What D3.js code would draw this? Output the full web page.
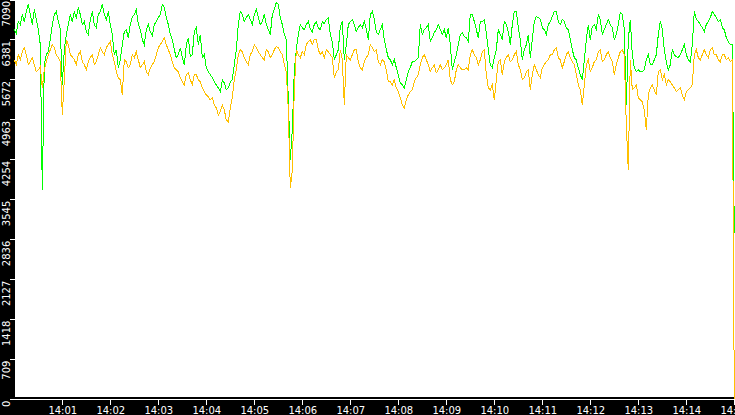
<!DOCTYPE html>
<html>
<head>
<meta charset="utf-8">
<script src="https://cdn.jsdelivr.net/npm/d3@7"></script>
<style>
  body { margin: 0; background: #000; }
  svg { display: block; }
</style>
</head>
<body>
<div id="chart"></div>
<script>
// one reading every 2.5 s, 14:00:00 .. 14:15:00
const startLabel = "14:00";
const endLabel = "14:15";
const stepMs = 2500;

const greenValues = [
  6556, 6484, 6698, 6645, 6823, 6698, 6876, 7001, 6823, 6645,
  6912, 6734, 6556, 6288, 3705, 5932, 6110, 6164, 6377, 6645,
  6823, 6876, 6698, 6556, 5576, 6199, 6467, 6645, 6823, 6698,
  6876, 6769, 6947, 6823, 6645, 6698, 6520, 6467, 6734, 6876,
  6645, 6591, 6823, 6876, 7001, 6823, 6734, 6876, 6645, 6467,
  6110, 6199, 5879, 6021, 6288, 6520, 6556, 6413, 6645, 6787,
  6823, 6912, 6645, 6556, 6377, 6288, 6556, 6645, 6520, 6449,
  6645, 6698, 6769, 6823, 7001, 6947, 6769, 6645, 6467, 6377,
  6199, 6057, 6110, 6235, 6057, 5932, 6288, 6413, 6075, 6110,
  6520, 6591, 6288, 6467, 6057, 6110, 5879, 5807, 5754, 5701,
  5629, 5576, 5522, 5451, 5665, 5611, 5487, 5522, 5629, 5665,
  5932, 6199, 6645, 6876, 6823, 6698, 6769, 6823, 6734, 6645,
  6823, 6912, 6769, 6645, 6698, 6823, 6645, 6556, 6467, 6823,
  6912, 7037, 7001, 6769, 6645, 6467, 6377, 5309, 4240, 4774,
  5843, 6199, 6467, 6645, 6591, 6556, 6645, 6698, 6556, 6520,
  6645, 6698, 6591, 6556, 6698, 6662, 6734, 6769, 6467, 6342,
  6021, 6110, 6199, 6609, 6698, 6021, 6288, 6645, 6698, 6734,
  6645, 6520, 6591, 6645, 6591, 6698, 6556, 6377, 6823, 6876,
  6734, 6520, 6467, 6556, 6645, 6377, 6199, 6057, 6021, 5932,
  6021, 5879, 5754, 5611, 5576, 5522, 5665, 5807, 5879, 5986,
  5986, 6021, 6057, 6645, 6467, 6556, 6591, 6645, 6342, 6413,
  6502, 6556, 6645, 6556, 6467, 6556, 6413, 6591, 6288, 5843,
  5986, 6110, 6288, 6467, 6502, 6431, 6413, 6342, 6823, 6823,
  6698, 6556, 6413, 6698, 6698, 6734, 6502, 6199, 5932, 5879,
  6057, 6199, 6556, 6467, 6377, 6698, 6645, 6520, 6288, 6645,
  6876, 6876, 6591, 6377, 6021, 6199, 6288, 6467, 6057, 6377,
  6698, 6787, 6769, 6734, 6591, 6556, 6467, 6645, 6698, 6787,
  6876, 6876, 6698, 6645, 6734, 6698, 6591, 6556, 6377, 6199,
  6057, 6021, 5879, 5754, 5665, 6021, 6377, 6645, 6377, 6609,
  6645, 6556, 6823, 6734, 6467, 6556, 6645, 6734, 6645, 6591,
  6377, 6467, 6645, 6858, 6823, 6556, 5220, 6377, 6734, 6110,
  5879, 5807, 5843, 5807, 5807, 5843, 6021, 6110, 5932, 5932,
  6021, 6110, 6467, 6698, 6556, 6199, 5986, 5843, 5932, 6199,
  6110, 6075, 6057, 6110, 6199, 6288, 6110, 6021, 5986, 6288,
  6876, 6734, 6698, 6645, 6591, 6520, 6645, 6698, 6769, 6876,
  6823, 6769, 6698, 6734, 6591, 6556, 6413, 6342, 6288, 6288,
  2939
];

const orangeValues = [
  6021, 5932, 6110, 6021, 6164, 6235, 6110, 5932, 5986, 6057,
  5932, 5807, 5843, 5897, 5522, 5843, 5986, 6110, 6199, 6288,
  6235, 6110, 6057, 5986, 5041, 5665, 6377, 6288, 6110, 6075,
  6021, 5932, 6110, 6164, 5986, 5932, 5843, 5986, 6057, 6110,
  5932, 5986, 6110, 6235, 6164, 6110, 6235, 6288, 6342, 6110,
  5986, 5807, 5701, 5665, 5398, 6021, 5986, 5879, 5932, 6110,
  6057, 6164, 6021, 5879, 5932, 5986, 5807, 5754, 5879, 5932,
  5986, 6110, 6235, 6288, 6342, 6413, 6288, 6199, 6110, 5986,
  5879, 5843, 5807, 5701, 5629, 5576, 5754, 5790, 5665, 5576,
  5754, 5754, 5665, 5629, 5522, 5451, 5398, 5362, 5309, 5344,
  5220, 5166, 5041, 5095, 5220, 5130, 4952, 4917, 5166, 5344,
  5665, 5843, 6110, 6199, 6164, 6057, 5986, 5932, 6110, 6164,
  6288, 6235, 6164, 6110, 6057, 6021, 6199, 6164, 6057, 6110,
  6199, 6253, 6235, 6164, 6110, 5932, 5807, 5130, 3741, 4062,
  5487, 6199, 6110, 6057, 6164, 6110, 6288, 6342, 6377, 6288,
  6377, 6377, 6199, 6110, 6164, 6057, 6199, 6164, 6110, 6057,
  5701, 5807, 5843, 6199, 6021, 5220, 6110, 6057, 6021, 6110,
  6199, 6199, 5986, 5879, 5843, 5986, 6057, 6110, 6288, 6235,
  6164, 6199, 5986, 5932, 6021, 5986, 5843, 5629, 5629, 5576,
  5665, 5522, 5451, 5344, 5220, 5166, 5309, 5398, 5451, 5487,
  5629, 5701, 5754, 5932, 6057, 6110, 6021, 5932, 5807, 5879,
  5932, 5790, 5843, 5932, 5843, 5879, 5932, 6021, 5665, 5576,
  5629, 5843, 5932, 5879, 5843, 5843, 5879, 5843, 6110, 6199,
  6110, 6057, 5932, 6021, 6164, 6199, 5754, 5522, 5487, 5576,
  5309, 5665, 5986, 6021, 5754, 5986, 6057, 6110, 5986, 6021,
  6110, 6164, 5932, 5843, 5665, 5701, 5807, 5843, 5487, 5754,
  5932, 5843, 5754, 5701, 5879, 5932, 5986, 6021, 6110, 6110,
  6199, 6235, 6057, 6021, 5879, 5986, 6110, 6164, 6057, 5986,
  5932, 5754, 5576, 5487, 5220, 5576, 5932, 6021, 5807, 5879,
  5986, 6021, 6164, 6199, 5986, 6021, 6110, 6164, 6057, 5986,
  5754, 5932, 6057, 6164, 6199, 6110, 4863, 4062, 6021, 5487,
  5522, 5576, 5344, 5309, 5273, 5130, 4774, 5398, 5522, 5576,
  5487, 5398, 5807, 5843, 5665, 5754, 5576, 5665, 5629, 5576,
  5522, 5451, 5487, 5522, 5398, 5309, 5451, 5487, 5522, 5576,
  6110, 6199, 6057, 6021, 6110, 6199, 6110, 6057, 6199, 6235,
  6110, 6110, 6021, 5986, 6110, 6110, 6021, 6057, 5986, 6021,
  0
];

const yTicks = [0, 709, 1418, 2127, 2836, 3545, 4254, 4963, 5672, 6381, 7090];
const xTickLabels = ["14:01", "14:02", "14:03", "14:04", "14:05", "14:06", "14:07", "14:08",
  "14:09", "14:10", "14:11", "14:12", "14:13", "14:14", "14:15"];

const width = 735, height = 415;
const parseHM = d3.timeParse("%H:%M");
const start = parseHM(startLabel);
const times = greenValues.map((d, i) => new Date(+start + i * stepMs));

const svg = d3.select("#chart")
  .append("svg")
  .attr("width", width)
  .attr("height", height)
  .style("background", "#000");

// white plotting area
svg.append("rect")
  .attr("x", 15)
  .attr("y", 0)
  .attr("width", width - 15)
  .attr("height", 397)
  .attr("fill", "#fff");

const x = d3.scaleTime()
  .domain([start, parseHM(endLabel)])
  .range([14.3, 734.3]);

const y = d3.scaleLinear()
  .domain([0, 7090])
  .range([399, -0.5]);

// lines
const line = d3.line()
  .x((d, i) => x(times[i]))
  .y(d => y(d));

svg.append("path")
  .datum(greenValues)
  .attr("fill", "none")
  .attr("stroke", "#00ff00")
  .attr("stroke-width", 1)
  .attr("shape-rendering", "crispEdges")
  .attr("d", line);

svg.append("path")
  .datum(orangeValues)
  .attr("fill", "none")
  .attr("stroke", "#ffc000")
  .attr("stroke-width", 1)
  .attr("shape-rendering", "crispEdges")
  .attr("d", line);

// X axis
const xAxis = svg.append("g")
  .attr("transform", "translate(0,398.5)")
  .call(d3.axisBottom(x)
    .tickValues(xTickLabels.map(parseHM))
    .tickFormat(d3.timeFormat("%H:%M"))
    .tickSize(6)
    .tickSizeOuter(0)
    .tickPadding(2));
xAxis.selectAll("path, line").attr("stroke", "#fff").attr("shape-rendering", "crispEdges");
xAxis.selectAll("text")
  .attr("fill", "#fff")
  .style("font-family", "DejaVu Sans")
  .style("font-size", "10px");

// Y axis, rotated labels
const yAxis = svg.append("g")
  .attr("transform", "translate(15,0)")
  .call(d3.axisLeft(y).tickValues(yTicks).tickFormat(d3.format("d")).tickSize(5));
yAxis.select(".domain").remove();
yAxis.selectAll("line").attr("stroke", "#fff").attr("shape-rendering", "crispEdges");
yAxis.selectAll("text")
  .attr("transform", "rotate(-90)")
  .attr("x", -1)
  .attr("y", -5)
  .attr("dy", 0)
  .attr("fill", "#fff")
  .style("text-anchor", "end")
  .style("font-family", "DejaVu Sans")
  .style("font-size", "10px");
</script>
</body>
</html>
